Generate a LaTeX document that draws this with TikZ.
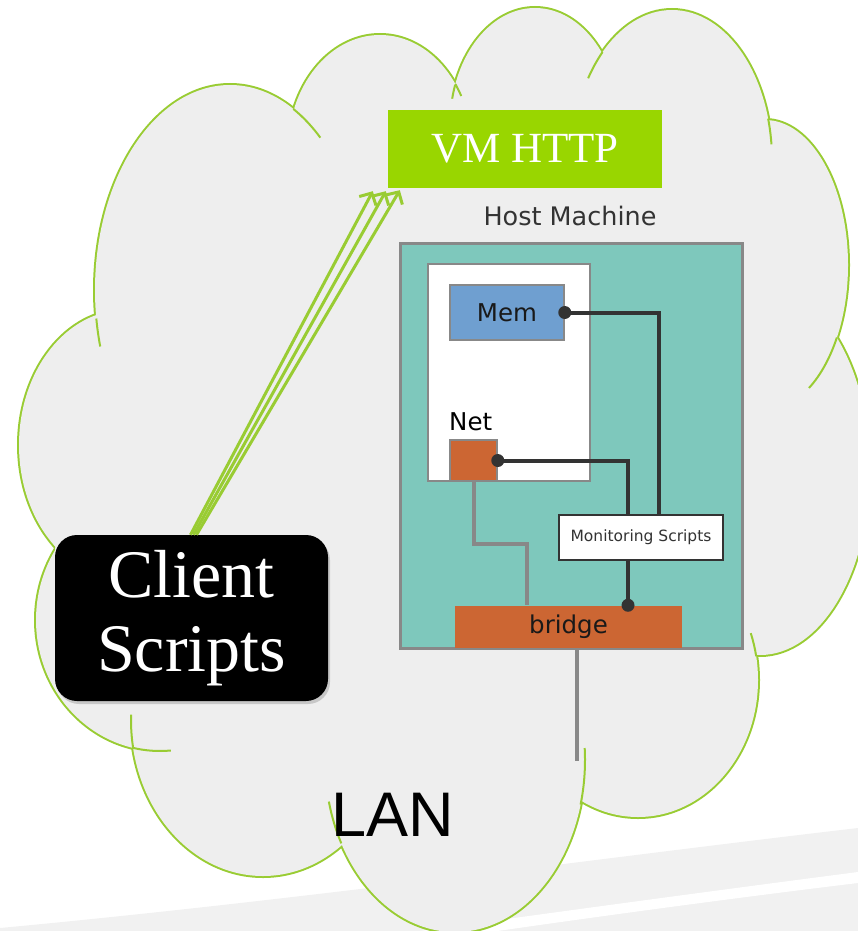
\documentclass[tikz,border=0pt]{standalone}
\usepackage{fontspec}
\setmainfont{Liberation Serif}
\setsansfont{DejaVu Sans}
\newfontfamily\lanfont{Liberation Sans}
\usetikzlibrary{arrows.meta,calc,shadows}
\definecolor{cloudgreen}{HTML}{99CC33}
\definecolor{cloudgray} {HTML}{EEEEEE}
\definecolor{bandgray}  {HTML}{F1F1F1}
\definecolor{vmgreen}   {HTML}{99D600}
\definecolor{hostteal}  {HTML}{7EC8BC}
\definecolor{framegray} {HTML}{888888}
\definecolor{memblue}   {HTML}{6F9FD0}
\definecolor{netorange} {HTML}{CC6633}
\definecolor{ink}       {HTML}{333333}
\tikzset{
  cloudedge/.style ={draw=cloudgreen, line width=4pt},
  cloudtick/.style ={draw=cloudgreen, line width=2pt},
  cloudfill/.style ={fill=cloudgray},
  vmbox/.style     ={fill=vmgreen, text=white, inner sep=0pt,
                     minimum width=274pt, minimum height=78pt,
                     font=\fontsize{43}{50}\selectfont},
  hostbox/.style   ={draw=framegray, fill=hostteal, line width=3pt,
                     minimum width=342pt, minimum height=405pt, inner sep=0pt},
  guestbox/.style  ={draw=framegray, fill=white, line width=1.5pt,
                     minimum width=162pt, minimum height=217pt, inner sep=0pt},
  partbox/.style   ={draw=framegray, line width=1.5pt, inner sep=0pt,
                     font=\fontsize{24.5}{29}\selectfont\sffamily, text=black!90},
  monbox/.style    ={draw=ink, fill=white, line width=2pt, inner sep=0pt,
                     minimum width=164pt, minimum height=45pt,
                     font=\fontsize{15.5}{18}\selectfont\sffamily, text=ink},
  clientbox/.style ={fill=black, text=white, rounded corners=22pt,
                     minimum width=273pt, minimum height=166pt, align=center,
                     font=\fontsize{68}{74}\selectfont,
                     drop shadow={shadow xshift=2pt,shadow yshift=-3pt,opacity=0.35}},
  darkline/.style  ={draw=ink, line width=4pt},
  grayline/.style  ={draw=framegray, line width=4pt},
  reqarr/.style    ={-{Straight Barb[length=9pt,width=19pt]}, draw=cloudgreen, line width=3pt},
}
\begin{document}
\begin{tikzpicture}[x=1pt,y=-1pt]
  \useasboundingbox (0,0) rectangle (858,931);
  \clip (0,0) rectangle (858,931);
  % slide background bands
  \fill[bandgray] (0,928) .. controls (300,900) and (600,858) .. (858,828) -- (858,931) -- (0,931) -- cycle;
  \fill[white] (420,931) .. controls (600,906) and (750,886) .. (858,872) -- (858,883) .. controls (750,896) and (600,916) .. (470,935) -- cycle;
  % LAN cloud
  \foreach \cx/\cy/\rx/\ry in {230/290/135/205, 380/150/92/115, 535/125/85/117,
      672/160/100/150, 765/265/83/145, 760/470/110/185, 638/680/120/137,
      455/760/130/172, 263/720/132/156, 160/620/124/131, 125/445/106/135}
    \draw[cloudedge] (\cx,\cy) ellipse [x radius=\rx pt, y radius=\ry pt];
  \foreach \cx/\cy/\rx/\ry in {230/290/135/205, 380/150/92/115, 535/125/85/117,
      672/160/100/150, 765/265/83/145, 760/470/110/185, 638/680/120/137,
      455/760/130/172, 263/720/132/156, 160/620/124/131, 125/445/106/135}
    \fill[cloudfill] (\cx,\cy) ellipse [x radius=\rx pt, y radius=\ry pt];
  \fill[cloudfill] (97,318) -- (305,130) -- (456,100) -- (595,72) -- (770,140)
    -- (838,340) -- (752,648) -- (580,800) -- (341,843) -- (140,757) -- (55,549) -- cycle;
  % puff ends running on inside the cloud
  \foreach \cx/\cy/\rx/\ry/\a/\b in {230/290/135/205/188/196, 230/290/135/205/48/62,
      380/150/92/115/28/35, 535/125/85/117/160/167, 672/160/100/150/134/147,
      672/160/100/150/6/16, 765/265/83/145/-58/-30, 638/680/120/137/10/20,
      455/760/130/172/-15/4, 455/760/130/172/194/209, 160/620/124/131/257/275,
      263/720/132/156/178/190}
    \draw[cloudtick] (\cx,\cy) ++(\a:\rx pt and \ry pt)
      arc[start angle=\a, end angle=\b, x radius=\rx pt, y radius=\ry pt];

  \node[vmbox] (vm) at (525,149) {VM HTTP};
  \node[anchor=base, font=\fontsize{25.5}{30}\selectfont\sffamily, text=ink] (hostlabel) at (570,225) {Host Machine};
  \node[hostbox] (host) at (571,445.5) {};
  \node[guestbox] (guest) at (509,372.5) {};
  \node[partbox, fill=memblue, minimum width=114pt, minimum height=55pt] (mem) at (507,312.5) {Mem};
  \node[anchor=base west, inner sep=0pt, font=\fontsize{24.5}{29}\selectfont\sffamily] (netlabel) at (449,430) {Net};
  \node[partbox, fill=netorange, minimum width=47pt, minimum height=41pt] (net) at (473.5,460.5) {};
  \node[monbox] (mon) at (641,537.5) {Monitoring Scripts};
  \node[partbox, draw=none, fill=netorange, minimum width=227pt, minimum height=42pt] (bridge) at (568.5,627) {bridge};
  \node[clientbox] (client) at (191.5,618) {Client\\Scripts};
  \node[anchor=base west, inner sep=0pt, font=\fontsize{63}{70}\selectfont\lanfont] (lan) at (331,836) {LAN};
  \coordinate (lanend) at (577,761);

  % monitoring wires
  \draw[darkline] (mem.east) -| ([xshift=18pt]mon.north);
  \draw[darkline] (net.east) -| ([xshift=-13pt]mon.north);
  \draw[darkline] ([xshift=-13pt]mon.south) -- ([xshift=-13pt]mon.south |- bridge.north);
  \fill[ink] (mem.east) circle (6.5) (net.east) circle (6.5) ([xshift=-13pt]mon.south |- bridge.north) circle (6.5);
  % network wires
  \draw[grayline] (net.south) -- ++(0,62) -| ([xshift=-41.5pt]bridge.north);
  \draw[grayline] (bridge.south -| lanend) -- (lanend);

  % client requests
  \draw[reqarr] ([xshift=-1pt]client.north) -- ([xshift=-15pt,yshift=-3pt]vm.south west);
  \draw[reqarr] ([xshift=2pt]client.north) -- ([xshift=-2pt,yshift=-3pt]vm.south west);
  \draw[reqarr] ([xshift=5pt]client.north) -- ([xshift=12pt,yshift=-2pt]vm.south west);
\end{tikzpicture}
\end{document}
